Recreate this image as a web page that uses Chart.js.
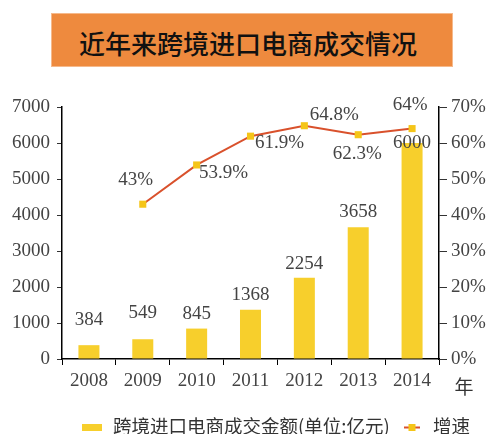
<!DOCTYPE html>
<html>
<head>
<meta charset="utf-8">
<script src="https://cdn.jsdelivr.net/npm/chart.js@4"></script>
<style>
  html, body { margin: 0; padding: 0; background: #fff; }
  #wrap { position: relative; width: 500px; height: 434px; }
  #title {
    position: absolute; left: 51px; top: 13px; width: 400px;
    background: #EE8A3E; border: 1px solid #F6B98B;
    font: 500 26px "Noto Sans CJK SC", sans-serif; color: #111;
    display: flex; align-items: center; justify-content: center;
    padding-top: 4px; padding-right: 8px; width: 392px;
    box-sizing: content-box; height: 48px;
  }
  canvas { position: absolute; left: 0; top: 0; }
</style>
</head>
<body>
<div id="wrap">
  <canvas id="myChart" width="500" height="434"></canvas>
  <div id="title">近年来跨境进口电商成交情况</div>
</div>
<script>
// data
const years = ['2008', '2009', '2010', '2011', '2012', '2013', '2014']
const amount = [384, 549, 845, 1368, 2254, 3658, 6000]
const growth = [null, 43, 53.9, 61.9, 64.8, 62.3, 64]
const amountTicks = [0, 1000, 2000, 3000, 4000, 5000, 6000, 7000]
const growthTicks = [0, 10, 20, 30, 40, 50, 60, 70]

const amountName = '跨境进口电商成交金额(单位:亿元)'
const growthName = '增速'

// label nudges (style only)
const barLabelDy = [-25, -26, -15, -15, -14, -15, 0]
const lineLabelDx = [0, -7, 27, 29, 30, -1, -2]
const lineLabelDy = [0, -24, 8, 7, -11, 19, -24]

const numFont = '19px "Liberation Serif", serif'
const cjkFont = '"Noto Sans CJK SC", sans-serif'
const textColor = '#444'
const barColor = '#F7CF2C'
const lineColor = '#D9512C'
const markColor = '#F5C518'

const valueLabels = {
  id: 'valueLabels',
  afterDatasetsDraw(chart) {
    const ctx = chart.ctx
    ctx.save()
    ctx.font = numFont
    ctx.fillStyle = textColor
    ctx.textAlign = 'center'
    ctx.textBaseline = 'middle'
    chart.getDatasetMeta(1).data.forEach((bar, i) => {
      ctx.fillText(String(amount[i]), bar.x, bar.y + barLabelDy[i])
    })
    chart.getDatasetMeta(0).data.forEach((pt, i) => {
      if (growth[i] == null) return
      ctx.fillText(growth[i] + '%', pt.x + lineLabelDx[i], pt.y + lineLabelDy[i])
    })
    ctx.restore()
  },
  afterDraw(chart) {
    const ctx = chart.ctx
    ctx.save()
    // unit under right axis
    ctx.font = '19px ' + cjkFont
    ctx.fillStyle = '#333'
    ctx.textAlign = 'center'
    ctx.textBaseline = 'middle'
    ctx.fillText('年', 464, 387)
    // legend
    ctx.fillStyle = barColor
    ctx.fillRect(82, 424, 20, 7)
    ctx.strokeStyle = lineColor
    ctx.lineWidth = 2
    ctx.beginPath()
    ctx.moveTo(404, 427.5)
    ctx.lineTo(420, 427.5)
    ctx.stroke()
    ctx.fillStyle = markColor
    ctx.fillRect(408.5, 424, 7, 7)
    ctx.fillStyle = '#333'
    ctx.textAlign = 'left'
    ctx.font = '18.5px ' + cjkFont
    ctx.fillText(amountName, 113, 426)
    ctx.fillText(growthName, 433, 426)
    ctx.restore()
  }
}

new Chart(document.getElementById('myChart').getContext('2d'), {
  type: 'bar',
  data: {
    labels: years,
    datasets: [
      {
        type: 'line',
        label: growthName,
        data: growth,
        yAxisID: 'y1',
        borderColor: lineColor,
        borderWidth: 2,
        pointStyle: 'rect',
        pointRadius: 5,
        pointBackgroundColor: markColor,
        pointBorderWidth: 0,
        tension: 0,
        order: 0
      },
      {
        label: amountName,
        data: amount,
        yAxisID: 'y',
        backgroundColor: barColor,
        categoryPercentage: 1,
        barPercentage: 0.39,
        order: 1
      }
    ]
  },
  options: {
    responsive: false,
    animation: false,
    layout: { padding: { top: 107, left: 0, right: 0, bottom: 0 } },
    plugins: { legend: { display: false }, tooltip: { enabled: false } },
    scales: {
      x: {
        offset: true,
        grid: { display: true, drawOnChartArea: false, drawTicks: true, tickLength: 6, color: '#000', offset: true },
        border: { color: '#000', width: 1.5 },
        ticks: { font: { family: '"Liberation Serif", serif', size: 19 }, color: textColor, padding: 5 },
        afterFit(s) { s.height = 75 }
      },
      y: {
        position: 'left',
        min: 0,
        max: 7000,
        afterBuildTicks(s) { s.ticks = amountTicks.map(v => ({ value: v })) },
        grid: { drawOnChartArea: false, tickLength: 5, color: '#333' },
        border: { color: '#000', width: 1.5 },
        ticks: { font: { family: '"Liberation Serif", serif', size: 19 }, color: textColor, padding: 7, callback: v => String(v) },
        afterFit(s) { s.width = 62 }
      },
      y1: {
        position: 'right',
        min: 0,
        max: 70,
        afterBuildTicks(s) { s.ticks = growthTicks.map(v => ({ value: v })) },
        grid: { drawOnChartArea: false, tickLength: 8, color: '#333' },
        border: { color: '#000', width: 1.5 },
        ticks: { font: { family: '"Liberation Serif", serif', size: 19 }, color: textColor, padding: 4, callback: v => v + '%' },
        afterFit(s) { s.width = 61 }
      }
    }
  },
  plugins: [valueLabels]
})
</script>
</body>
</html>
